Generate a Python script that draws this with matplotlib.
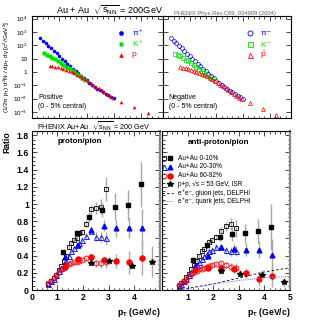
import matplotlib
matplotlib.use('Agg')
import matplotlib.pyplot as plt
from matplotlib.ticker import FixedLocator, MultipleLocator, NullFormatter

plt.rcParams['font.family'] = ['Liberation Sans', 'DejaVu Sans']
plt.rcParams['mathtext.fontset'] = 'custom'
plt.rcParams['mathtext.rm'] = 'Liberation Sans'
plt.rcParams['mathtext.it'] = 'Liberation Sans:italic'
plt.rcParams['mathtext.bf'] = 'Liberation Sans:bold'
plt.rcParams['mathtext.default'] = 'regular'

# ---- spectra, Au+Au 0-5% central ----
pi_pt = [0.3, 0.4, 0.5, 0.6, 0.7, 0.8, 0.9, 1.0, 1.1, 1.2, 1.3, 1.4, 1.5, 1.6,
         1.7, 1.8, 1.9, 2.0, 2.1, 2.2, 2.3, 2.4, 2.5, 2.6, 2.7, 2.8, 2.9, 3.0]
pip_yield = [355, 229, 148, 95.5, 61.7, 39.8, 25.1, 15.8, 10.0, 6.46, 4.17, 2.75, 1.82, 1.20,
             0.794, 0.525, 0.355, 0.234, 0.158, 0.110, 0.0776, 0.0562, 0.0417, 0.0309,
             0.0229, 0.0174, 0.0135, 0.0105]
pim_yield = [340, 220, 142, 92, 59, 38, 24, 15.2, 9.6, 6.2, 4.0, 2.64, 1.74, 1.15,
             0.76, 0.50, 0.34, 0.225, 0.152, 0.106, 0.0745, 0.054, 0.040, 0.0297,
             0.022, 0.0167, 0.013, 0.0101]
k_pt = [0.45, 0.55, 0.65, 0.75, 0.85, 0.95, 1.05, 1.15, 1.25, 1.35, 1.45, 1.55,
        1.65, 1.75, 1.85, 1.95]
kp_yield = [25.1, 20.4, 15.8, 12.0, 9.12, 6.76, 4.90, 3.55, 2.57, 1.86, 1.32, 0.933,
            0.661, 0.468, 0.331, 0.240]
km_yield = [23.5, 19.2, 14.9, 11.3, 8.6, 6.4, 4.6, 3.35, 2.43, 1.76, 1.25, 0.88,
            0.625, 0.443, 0.313, 0.227]
p_pt = [0.65, 0.75, 0.85, 0.95, 1.05, 1.15, 1.25, 1.35, 1.45, 1.55, 1.65, 1.75, 1.85,
        1.95, 2.05, 2.15, 2.25, 2.35, 2.45, 2.55, 2.65, 2.75, 2.85, 2.95, 3.25, 3.75, 4.25]
p_yield = [2.95, 2.75, 2.51, 2.24, 1.95, 1.66, 1.41, 1.17, 0.977, 0.794, 0.631, 0.490,
           0.372, 0.275, 0.204, 0.151, 0.112, 0.0813, 0.0589, 0.0427, 0.0309, 0.0224,
           0.0162, 0.0117, 0.0060, 0.00224, 0.00089]
pbar_yield = [2.2, 2.06, 1.88, 1.68, 1.46, 1.25, 1.06, 0.88, 0.73, 0.595, 0.473, 0.368,
              0.279, 0.206, 0.153, 0.113, 0.084, 0.061, 0.0442, 0.032, 0.0232, 0.0168,
              0.0122, 0.0088, 0.0048, 0.0017, 0.0006]

# ---- ratios, low pT (open symbols) ----
lo_pt = [0.65, 0.75, 0.85, 0.95, 1.05, 1.15, 1.25, 1.35, 1.45, 1.55, 1.65, 1.75, 1.85,
         1.95, 2.1, 2.3, 2.5, 2.7, 2.9]
ppi_c0_lo = [0.07, 0.10, 0.14, 0.18, 0.23, 0.28, 0.34, 0.40, 0.50, 0.55, 0.58, 0.60, 0.66,
             0.68, 0.77, 0.94, 0.95, 0.97, 1.17]
ppi_c0_lo_err = [0.005, 0.005, 0.01, 0.01, 0.01, 0.015, 0.015, 0.02, 0.02, 0.025, 0.025,
                 0.03, 0.03, 0.035, 0.04, 0.05, 0.07, 0.09, 0.14]
ppi_c2_lo = [0.07, 0.10, 0.13, 0.17, 0.22, 0.26, 0.30, 0.34, 0.40, 0.45, 0.49, 0.52, 0.55,
             0.58, 0.63, 0.69, 0.62, 0.62, 0.60]
ppi_c2_lo_err = [0.005, 0.005, 0.01, 0.01, 0.01, 0.01, 0.015, 0.015, 0.02, 0.02, 0.02,
                 0.025, 0.025, 0.03, 0.03, 0.04, 0.05, 0.06, 0.08]
ppi_c6_lo = [0.08, 0.11, 0.14, 0.17, 0.21, 0.24, 0.26, 0.29, 0.30, 0.31, 0.32, 0.33, 0.34,
             0.35, 0.37, 0.38, 0.31, 0.31, 0.32]
ppi_c6_lo_err = [0.005, 0.005, 0.01, 0.01, 0.01, 0.01, 0.01, 0.015, 0.015, 0.015, 0.02,
                 0.02, 0.02, 0.025, 0.03, 0.03, 0.04, 0.05, 0.06]
apipi_c0_lo = [0.05, 0.08, 0.11, 0.15, 0.19, 0.24, 0.29, 0.34, 0.40, 0.45, 0.48, 0.52,
               0.56, 0.58, 0.62, 0.69, 0.74, 0.77, 0.72]
apipi_c0_lo_err = [0.005, 0.005, 0.01, 0.01, 0.01, 0.015, 0.015, 0.02, 0.02, 0.02, 0.025,
                   0.025, 0.03, 0.03, 0.035, 0.04, 0.05, 0.07, 0.10]
apipi_c2_lo = [0.05, 0.07, 0.10, 0.13, 0.17, 0.21, 0.25, 0.29, 0.33, 0.36, 0.39, 0.42,
               0.45, 0.47, 0.50, 0.50, 0.46, 0.45, 0.45]
apipi_c2_lo_err = [0.005, 0.005, 0.01, 0.01, 0.01, 0.01, 0.015, 0.015, 0.02, 0.02, 0.02,
                   0.02, 0.025, 0.025, 0.03, 0.03, 0.04, 0.05, 0.06]
apipi_c6_lo = [0.06, 0.08, 0.11, 0.13, 0.16, 0.19, 0.21, 0.22, 0.24, 0.25, 0.26, 0.27,
               0.28, 0.29, 0.30, 0.31, 0.29, 0.27, 0.26]
apipi_c6_lo_err = [0.005, 0.005, 0.01, 0.01, 0.01, 0.01, 0.01, 0.01, 0.015, 0.015, 0.015,
                   0.02, 0.02, 0.02, 0.025, 0.03, 0.03, 0.04, 0.05]

# ---- ratios, high pT (filled symbols) ----
hi_pt = [1.23, 1.75, 2.25, 2.75, 3.25, 3.75, 4.25]
hi_pt_shift = [1.28, 1.8, 2.3, 2.8, 3.3, 3.8, 4.3]
ppi_c0_hi = [0.44, 0.66, 0.85, 0.93, 0.97, 0.99, 1.23]
ppi_c0_hi_err = [0.03, 0.04, 0.06, 0.08, 0.16, 0.17, 0.26]
ppi_c2_hi = [0.38, 0.52, 0.70, 0.75, 0.72, 0.72, 0.72]
ppi_c2_hi_err = [0.03, 0.04, 0.05, 0.06, 0.10, 0.12, 0.22]
ppi_c6_hi = [0.27, 0.36, 0.38, 0.35, 0.34, 0.32, 0.37]
ppi_c6_hi_err = [0.02, 0.03, 0.04, 0.05, 0.08, 0.13, 0.20]
apipi_c0_hi = [0.35, 0.52, 0.62, 0.65, 0.66, 0.69, 0.73]
apipi_c0_hi_err = [0.03, 0.04, 0.05, 0.08, 0.11, 0.14, 0.27]
apipi_c2_hi = [0.28, 0.40, 0.50, 0.48, 0.47, 0.47, 0.41]
apipi_c2_hi_err = [0.02, 0.03, 0.04, 0.06, 0.08, 0.10, 0.18]
apipi_c6_hi = [0.23, 0.26, 0.26, 0.24, 0.20, 0.13, 0.16]
apipi_c6_hi_err = [0.02, 0.02, 0.03, 0.04, 0.06, 0.08, 0.12]

# ---- p+p ISR ----
pp_pt_p = [2.3, 3.0, 3.9, 4.7]
pp_ppi = [0.31, 0.34, 0.28, 0.33]
pp_ppi_err = [0.03, 0.04, 0.03, 0.18]
pp_pt_a = [2.3, 3.05, 3.9, 4.75]
pp_apipi = [0.22, 0.19, 0.17, 0.09]
pp_apipi_err = [0.03, 0.04, 0.06, 0.05]

# ---- e+e- DELPHI ----
ee_pt = [0.6, 1.0, 1.5, 2.0, 2.5, 3.0, 3.5, 4.0, 4.5, 5.0]
ee_gluon = [0.0, 0.02, 0.045, 0.07, 0.105, 0.14, 0.175, 0.21, 0.235, 0.26]
ee_quark = [0.0, 0.01, 0.04, 0.07, 0.09, 0.11, 0.125, 0.14, 0.15, 0.16]

BLUE = '#0000ff'
GREEN = '#00dd00'
RED = '#ff0000'
GRAY = '#a8a8a8'
QCOL = '#8080ff'

W, H = 321, 326
fig = plt.figure(figsize=(W / 100, H / 100), dpi=100)


def box(x0, y0, x1, y1):
    return [x0 / W, 1 - y1 / H, (x1 - x0) / W, (y1 - y0) / H]


ax_tl = fig.add_axes(box(32, 16, 163, 118))
ax_tr = fig.add_axes(box(163, 16, 291, 118))
ax_bl = fig.add_axes(box(31.7, 131, 160, 290))
ax_br = fig.add_axes(box(162, 131, 290, 290))

# ---------- top: spectra ----------
dec_ticks = [1e-3, 1e-2, 1e-1, 1, 10, 1e2, 1e3, 1e4]
dec_labels = ['10$^{-3}$', '10$^{-2}$', '10$^{-1}$', '1', '10', '10$^{2}$', '10$^{3}$', '10$^{4}$']
for ax in (ax_tl, ax_tr):
    ax.set_yscale('log')
    ax.set_xlim(0, 4.8)
    ax.set_ylim(10 ** -3.45, 10 ** 4.2)
    ax.yaxis.set_major_locator(FixedLocator(dec_ticks))
    ax.xaxis.set_major_locator(MultipleLocator(1))
    ax.xaxis.set_minor_locator(MultipleLocator(0.2))
    ax.xaxis.set_major_formatter(NullFormatter())
    ax.tick_params(which='both', direction='in', top=True, right=True, width=0.5)
    ax.tick_params(which='major', length=3.5)
    ax.tick_params(which='minor', length=1.8)
    for s in ax.spines.values():
        s.set_linewidth(0.8)

ax_tl.set_yticklabels(dec_labels, fontsize=4.5)
ax_tr.yaxis.set_major_formatter(NullFormatter())
ax_tl.yaxis.set_minor_formatter(NullFormatter())
ax_tr.yaxis.set_minor_formatter(NullFormatter())

ax_tl.plot(pi_pt, pip_yield, 'o', color=BLUE, ms=2.6, mec='none')
ax_tl.plot(k_pt, kp_yield, 's', color=GREEN, ms=2.5, mec='none')
ax_tl.plot(p_pt, p_yield, '^', color=RED, ms=2.6, mec='none')
ax_tr.plot(pi_pt, pim_yield, 'o', mfc='none', mec=BLUE, ms=2.8, mew=0.5)
ax_tr.plot(k_pt, km_yield, 's', mfc='none', mec=GREEN, ms=2.7, mew=0.5)
ax_tr.plot(p_pt, pbar_yield, '^', mfc='none', mec=RED, ms=2.8, mew=0.5)

top_leg = [(ax_tl, True, [r'$\pi^+$', r'$K^+$', 'p']),
           (ax_tr, False, [r'$\pi^-$', r'$K^-$', r'$\bar{p}$'])]
for ax, filled, labs in top_leg:
    for i, (m, c, lab) in enumerate(zip(['o', 's', '^'], [BLUE, GREEN, RED], labs)):
        yy = 0.83 - i * 0.105
        if filled:
            ax.plot(0.68, yy, m, color=c, ms=3.4, mec='none', transform=ax.transAxes, clip_on=False)
        else:
            ax.plot(0.68, yy, m, mfc='none', mec=c, ms=3.6, mew=0.6, transform=ax.transAxes, clip_on=False)
        ax.text(0.76, yy, lab, color=c, fontsize=6, va='center', ha='left', transform=ax.transAxes)

ax_tl.text(0.045, 0.155, 'Positive\n(0 - 5% central)', fontsize=5, transform=ax_tl.transAxes,
           va='center', ha='left', linespacing=1.5)
ax_tr.text(0.045, 0.155, 'Negative\n(0 - 5% central)', fontsize=5, transform=ax_tr.transAxes,
           va='center', ha='left', linespacing=1.5)
ax_tl.set_ylabel(r'(1/2$\pi$ p$_T$) d$^2$N / dp$_T$ dy [c$^2$/GeV$^2$]', fontsize=4.6, labelpad=1)

fig.text(110 / W, 1 - 10 / H, r'Au + Au  $\sqrt{s_{NN}}$ = 200GeV', fontsize=6.6,
         ha='center', va='center')
fig.text(225 / W, 1 - 13 / H, 'PHENIX Phys.Rev.C69, 034909 (2004)', fontsize=4.2,
         ha='center', va='center', color='#606060')
fig.text(93 / W, 1 - 126.5 / H, r'PHENIX Au+Au  $\sqrt{s_{NN}}$ = 200 GeV', fontsize=5.2,
         ha='center', va='center')

# ---------- bottom: ratios ----------
for ax in (ax_bl, ax_br):
    ax.set_xlim(0, 5)
    ax.set_ylim(0, 1.85)
    ax.xaxis.set_major_locator(MultipleLocator(1))
    ax.yaxis.set_major_locator(MultipleLocator(0.2))
    ax.yaxis.set_minor_locator(MultipleLocator(0.05))
    ax.tick_params(which='both', direction='in', top=True, right=True, width=0.5)
    ax.tick_params(which='major', length=3.5, labelsize=6.2, pad=2)
    ax.tick_params(which='minor', length=1.8)
    for s in ax.spines.values():
        s.set_linewidth(0.8)
    ax.spines['right'].set_color('#888888')
    ax.spines['right'].set_linewidth(1.6)
    ax.set_xlabel(r'p$_T$ (GeV/c)', fontsize=6.2, fontweight='bold', loc='right', labelpad=3)

ax_bl.set_xticks([0, 1, 2, 3, 4])
ax_bl.set_xticklabels(['0', '1', '2', '3', '4'], fontweight='bold')
ax_br.set_xticks([1, 2, 3, 4, 5])
ax_br.set_xticklabels(['1', '2', '3', '4', '5'], fontweight='bold')
ax_br.xaxis.set_minor_locator(MultipleLocator(0.2))
ax_bl.xaxis.set_minor_locator(MultipleLocator(0.2))
ax_br.yaxis.set_major_formatter(NullFormatter())
ax_bl.set_yticks([0, 0.2, 0.4, 0.6, 0.8, 1.0, 1.2, 1.4, 1.6, 1.8])
ax_bl.set_yticklabels(['0', '0.2', '0.4', '0.6', '0.8', '1', '1.2', '1.4', '1.6', '1.8'],
                      fontweight='bold')
ax_bl.set_ylabel('Ratio', fontsize=6.2, fontweight='bold', loc='top', labelpad=4)

ebar = dict(ecolor=GRAY, elinewidth=1.0, capsize=0, ls='none')
sty_open = {'c0': dict(marker='s', mfc='none', mec='black', ms=3.4, mew=0.6),
            'c2': dict(marker='^', mfc='none', mec=BLUE, ms=3.6, mew=0.6),
            'c6': dict(marker='o', mfc='none', mec=RED, ms=3.6, mew=0.6)}
sty_fill = {'c0': dict(marker='s', color='black', ms=3.2),
            'c2': dict(marker='^', color=BLUE, ms=3.4),
            'c6': dict(marker='o', color=RED, ms=3.6)}
sty_pp = dict(marker='*', color='black', ms=4.0)


def ratio_panel(ax, lo, hi, pp_pt, pp, pp_err):
    for key, (vals, errs) in zip(['c0', 'c2', 'c6'], lo):
        ax.errorbar(lo_pt, vals, yerr=errs, fmt='none', **ebar)
        ax.plot(lo_pt, vals, ls='none', **sty_open[key])
    for key, xs, (vals, errs) in zip(['c0', 'c2', 'c6'], [hi_pt, hi_pt_shift, hi_pt_shift], hi):
        ax.errorbar(xs, vals, yerr=errs, fmt='none', **ebar)
        ax.plot(xs, vals, ls='none', **sty_fill[key])
    ax.errorbar(pp_pt, pp, yerr=pp_err, fmt='none', **ebar)
    ax.plot(pp_pt, pp, ls='none', **sty_pp)


ratio_panel(ax_bl,
            [(ppi_c0_lo, ppi_c0_lo_err), (ppi_c2_lo, ppi_c2_lo_err), (ppi_c6_lo, ppi_c6_lo_err)],
            [(ppi_c0_hi, ppi_c0_hi_err), (ppi_c2_hi, ppi_c2_hi_err), (ppi_c6_hi, ppi_c6_hi_err)],
            pp_pt_p, pp_ppi, pp_ppi_err)
ratio_panel(ax_br,
            [(apipi_c0_lo, apipi_c0_lo_err), (apipi_c2_lo, apipi_c2_lo_err), (apipi_c6_lo, apipi_c6_lo_err)],
            [(apipi_c0_hi, apipi_c0_hi_err), (apipi_c2_hi, apipi_c2_hi_err), (apipi_c6_hi, apipi_c6_hi_err)],
            pp_pt_a, pp_apipi, pp_apipi_err)

ax_br.plot(ee_pt, ee_gluon, color='black', ls=(0, (3, 2.5)), lw=0.6)
ax_br.plot(ee_pt, ee_quark, color=QCOL, ls=(0, (1, 1)), lw=0.8)

ax_bl.text(0.2, 0.935, 'proton/pion', fontsize=5.8, fontweight='bold', transform=ax_bl.transAxes,
           ha='left', va='center')
ax_br.text(0.2, 0.93, 'anti-proton/pion', fontsize=5.8, fontweight='bold', transform=ax_br.transAxes,
           ha='left', va='center')

# legend (right ratio panel), drawn as keys + texts
leg_labels = ['Au+Au 0-10%', 'Au+Au 20-30%', 'Au+Au 60-92%', 'p+p, \u221as = 53 GeV, ISR',
              'e\u207ae\u207b, gluon jets, DELPHI', 'e\u207ae\u207b, quark jets, DELPHI']
leg_y = [0.830, 0.774, 0.717, 0.664, 0.610, 0.557]
tr = ax_br.transAxes
for key, yy in zip(['c0', 'c2', 'c6'], leg_y[:3]):
    ax_br.plot([0.012], [yy], ls='none', transform=tr, clip_on=False, **sty_open[key])
    ax_br.plot([0.065], [yy], ls='none', transform=tr, clip_on=False, **sty_fill[key])
ax_br.plot([0.065], [leg_y[3]], ls='none', transform=tr, clip_on=False, **sty_pp)
ax_br.plot([0.0, 0.085], [leg_y[4]] * 2, color='black', ls=(0, (3, 2.5)), lw=0.6, transform=tr)
ax_br.plot([0.0, 0.085], [leg_y[5]] * 2, color=QCOL, ls=(0, (1, 1)), lw=0.8, transform=tr)
for lab, yy in zip(leg_labels, leg_y):
    ax_br.text(0.125, yy, lab, fontsize=4.7, transform=tr, ha='left', va='center',
               family=['Liberation Sans', 'DejaVu Sans'])

fig.savefig('out.png', dpi=100)
